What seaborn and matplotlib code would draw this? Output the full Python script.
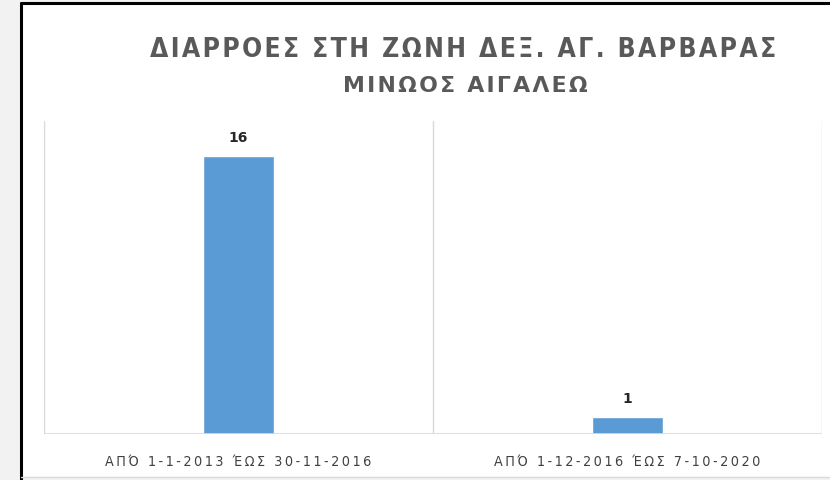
import matplotlib
matplotlib.use("Agg")
import matplotlib.pyplot as plt
import matplotlib.patches as mpatches
import seaborn as sns
import pandas as pd

categories = ["ΑΠΌ 1-1-2013 ΈΩΣ 30-11-2016", "ΑΠΌ 1-12-2016 ΈΩΣ 7-10-2020"]
values = [16, 1]
title = "ΔΙΑΡΡΟΕΣ ΣΤΗ ΖΩΝΗ ΔΕΞ. ΑΓ. ΒΑΡΒΑΡΑΣ"
subtitle = "ΜΙΝΩΟΣ ΑΙΓΑΛΕΩ"

sns.set_theme(style="white")
plt.rcParams['font.family'] = ['DejaVu Sans']


def spaced(s, ch):
    """Letter-spaced rendering of a label (Excel-style character spacing)."""
    return ch.join(list(s))


W, H = 830, 481
fig = plt.figure(figsize=(W / 100, H / 100), dpi=100)
fig.patch.set_facecolor("#f2f2f2")

card = mpatches.Rectangle((21 / W, 1 - 478 / H), 1.0, (478 - 4) / H, transform=fig.transFigure,
                          facecolor="white", edgecolor="none", zorder=-5)
fig.add_artist(card)
fig.add_artist(plt.Line2D([21 / W, 21 / W], [1 - 4 / H, 1 - 481 / H], transform=fig.transFigure,
                          color="black", lw=2.2, zorder=-4))
fig.add_artist(plt.Line2D([21 / W, 1], [1 - 4 / H, 1 - 4 / H], transform=fig.transFigure,
                          color="black", lw=2.2, zorder=-4))
fig.add_artist(plt.Line2D([21 / W, 1], [1 - 478 / H, 1 - 478 / H], transform=fig.transFigure,
                          color="#d9d9d9", lw=1, zorder=-4))

ax = fig.add_axes([44 / W, 1 - 435 / H, (822 - 44) / W, (435 - 122) / H])
ax.set_facecolor("none")

df = pd.DataFrame({"period": categories, "count": values})
sns.barplot(data=df, x="period", y="count", color="#5b9bd5", saturation=1, width=0.18, ax=ax, zorder=3)

ax.set_xlim(-0.5, 1.5)
ax.set_ylim(0, 18)
for xb in (-0.5, 0.5, 1.5):
    ax.axvline(xb, color="#d9d9d9", lw=1, zorder=1)
for s in ax.spines.values():
    s.set_visible(False)
ax.axhline(0, color="#d9d9d9", lw=1.2, zorder=4)
ax.set_yticks([])
ax.set_xlabel("")
ax.set_ylabel("")
ax.set_xticks(range(len(categories)))
ax.set_xticklabels([spaced(c, "\u2009") for c in categories], fontstretch="condensed")
ax.tick_params(axis="x", length=0, pad=14.5, labelsize=10.3, labelcolor="#404040")

for i, v in enumerate(values):
    ax.annotate(str(v), (i, v), xytext=(0, 10.8), textcoords="offset points", ha="center", va="baseline",
                fontsize=10, fontweight="bold", color="#262626")

fig.text(463 / W, 1 - 57 / H, spaced(title, "\u200a"), ha="center", va="baseline", fontsize=19,
         fontweight="bold", fontstretch="condensed", color="#595959")
fig.text(465 / W, 1 - 92 / H, spaced(subtitle, "\u200a"), ha="center", va="baseline", fontsize=15.8,
         fontweight="bold", color="#595959")

fig.savefig("out.png", dpi=100)
